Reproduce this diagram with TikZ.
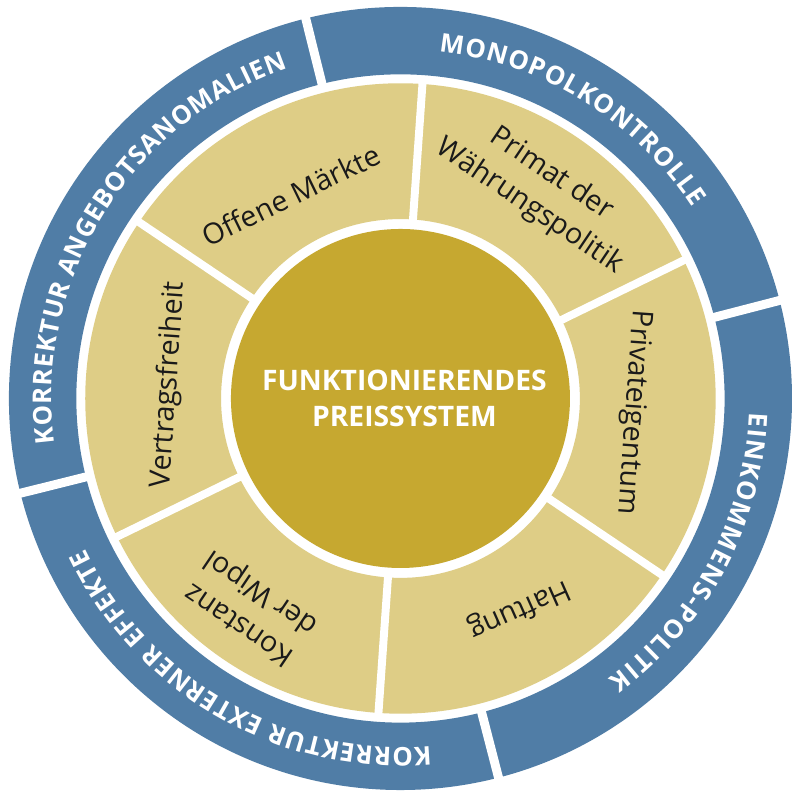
\documentclass[tikz,border=0pt]{standalone}
\usepackage{fontspec}
\setmainfont{Open Sans}
\usetikzlibrary{decorations.text}

\definecolor{ringblue}{RGB}{80,125,166}
\definecolor{ringtan}{RGB}{222,205,134}
\definecolor{coregold}{RGB}{198,168,48}
\definecolor{labelink}{RGB}{26,26,26}

\begin{document}
\begin{tikzpicture}[
    pillar/.style={text=labelink, align=center, inner sep=0pt, font=\fontsize{29}{39}\selectfont},
    core/.style={text=white, align=center, inner sep=0pt, font=\fontsize{28.5}{37}\selectfont\bfseries},
    gap/.style={draw=white, line width=#1},
    ringtext/.style={decorate, decoration={text along path, text color=white,
        text align={fit to path}, text={|\fontsize{26}{30}\selectfont\bfseries|#1}}}
  ]
    \fill[white] (-404pt,-390pt) rectangle (383pt,402pt);

    \def\rbase{352pt}
    % outer ring
    \fill[ringblue, even odd rule] (0,0) circle (395pt) (0,0) circle (327pt);
    \foreach \a in {104,14.5,-75.5,-166}
      \draw[gap=9pt] (\a:320pt) -- (\a:400pt);

    % middle ring
    \fill[ringtan, even odd rule] (0,0) circle (318pt) (0,0) circle (181pt);
    \foreach \a in {86,26,-34,-94,-154,146}
      \draw[gap=8pt] (\a:175pt) -- (\a:322pt);

    \fill[coregold] (0,0) circle (171pt);

    \path[ringtext={KORREKTUR ANGEBOTSANOMALIEN}] (187.4:\rbase) arc[start angle=187.4, end angle=108.8, radius=\rbase];
    \path[ringtext={MONOPOLKONTROLLE}] (83.7:\rbase) arc[start angle=83.7, end angle=33.2, radius=\rbase];
    \path[ringtext={EINKOMMENS-POLITIK}] (-2.3:\rbase) arc[start angle=-2.3, end angle=-53.4, radius=\rbase];
    \path[ringtext={KORREKTUR EXTERNER EFFEKTE}] (-85:\rbase) arc[start angle=-85, end angle=-154.5, radius=\rbase];

    \node[pillar, rotate=26] (offen) at (118.4:233pt) {Offene Märkte};
    \node[pillar, rotate=-34] (primat) at (56.1:253pt) {Primat der\\Währungspolitik};
    \node[pillar, rotate=-94] (eigentum) at (-3.4:235pt) {Privateigentum};
    \node[pillar, rotate=-156] (haftung) at (-60.6:244pt) {Haftung};
    \node[pillar, rotate=146] (wipol) at (-125.6:259pt) {Konstanz\\der Wipol};
    \node[pillar, rotate=86] (vertrag) at (176.6:234pt) {Vertragsfreiheit};

    \node[core] (preis) at (4pt,0) {FUNKTIONIERENDES\\PREISSYSTEM};
  \end{tikzpicture}
\end{document}
